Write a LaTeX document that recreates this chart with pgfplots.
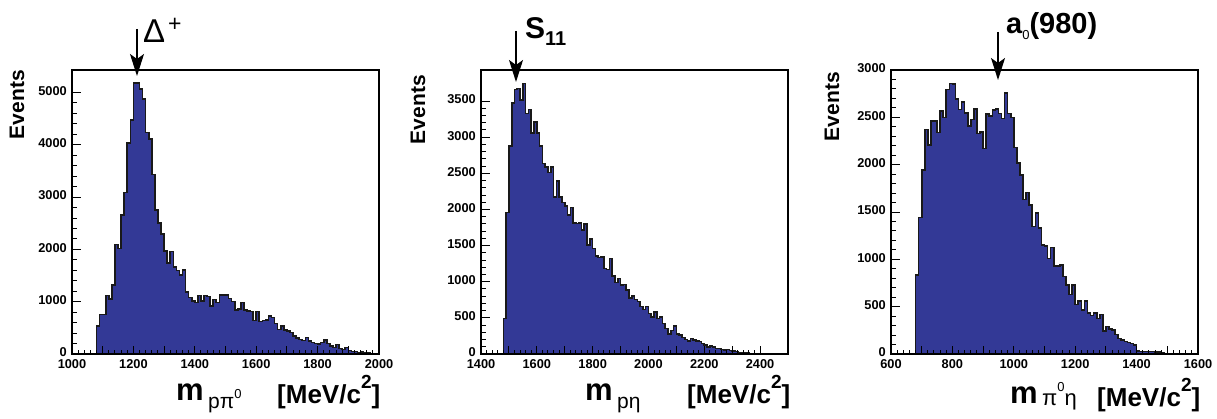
\documentclass[border=0pt]{standalone}
\usepackage{fontspec}
\setmainfont{Liberation Sans}
\usepackage{pgfplots}
\pgfplotsset{compat=1.18}
\usetikzlibrary{arrows.meta}
\definecolor{histblue}{RGB}{51,57,150}
\newcommand\fs[1]{\fontsize{#1}{#1}\selectfont}
\pgfplotsset{rootstyle/.style={
  scale only axis, width=307pt, height=284pt, anchor=south west,
  axis line style={line width=1.2pt},
  axis on top,
  tick align=inside, xtick pos=bottom, ytick pos=left,
  major tick length=8.5pt, minor tick length=4.5pt,
  every tick/.style={black, line width=1pt},
  scaled ticks=false,
  /pgf/number format/assume math mode=true,
  /pgf/number format/1000 sep={},
  ticklabel style={font=\fs{12.8}\bfseries, inner sep=0pt},
  xticklabel style={yshift=-5pt},
  yticklabel style={xshift=-5pt, yshift=1.5pt},
  extra x tick labels={},
  ymin=0,
},
hist/.style={const plot, fill=histblue, draw=black!90, line width=1.6pt}}
\begin{document}
\begin{tikzpicture}[x=1pt,y=1pt]
\path[use as bounding box] (0,0) rectangle (1217,418);
% ---------- panel 1 ----------
\begin{axis}[rootstyle, at={(72pt,64pt)}, xmin=1000, xmax=2000, ymax=5430,
  xtick={1000,1200,...,2000}, minor x tick num=9,
  extra x ticks={1100,1300,1500,1700,1900},
  ytick={0,1000,...,5000}, minor y tick num=4]
\addplot[hist] coordinates {
(1000,0)(1080,535)(1090,758)(1100,758)(1110,1115)(1120,1051)(1130,1318)(1140,2096)(1150,2019)(1160,2656)
(1170,3089)(1180,4032)(1190,4478)(1200,5185)(1210,5185)(1220,5064)(1230,4873)(1240,4236)(1250,4115)(1260,3433)
(1270,2752)(1280,2503)(1290,2293)(1300,1968)(1310,1745)(1320,1956)(1330,1663)(1340,1593)(1350,1516)(1360,1605)
(1370,1191)(1380,1083)(1390,1019)(1400,981)(1410,1115)(1420,1013)(1430,1115)(1440,1096)(1450,917)(1460,1045)
(1470,987)(1480,1128)(1490,1128)(1500,1127)(1510,1064)(1520,1000)(1530,841)(1540,866)(1550,981)(1560,841)
(1570,822)(1580,809)(1590,637)(1600,809)(1610,618)(1620,637)(1630,650)(1640,726)(1650,700)(1660,586)
(1670,471)(1680,535)(1690,459)(1700,440)(1710,408)(1720,344)(1730,306)(1740,280)(1750,255)(1760,318)
(1770,248)(1780,223)(1790,204)(1800,191)(1810,217)(1820,268)(1830,204)(1840,153)(1850,127)(1860,185)
(1870,108)(1880,89)(1890,127)(1900,64)(1910,51)(1920,45)(1930,32)(1940,38)(1950,25)(1960,19)
(1970,13)(1980,6)(1990,6)(2000,6)} \closedcycle;
\end{axis}
% ---------- panel 2 ----------
\begin{axis}[rootstyle, at={(481pt,64pt)}, xmin=1400, xmax=2500, ymax=3930,
  xtick={1400,1600,...,2400}, minor x tick num=9,
  extra x ticks={1500,1700,1900,2100,2300,2500},
  ytick={0,500,...,3500}, minor y tick num=4]
\addplot[hist] coordinates {
(1400,0)(1480,490)(1490,1959)(1500,2881)(1510,3476)(1520,3660)(1530,3674)(1540,3513)(1550,3743)(1560,3328)
(1570,3384)(1580,3061)(1590,3213)(1600,3061)(1610,2877)(1620,2637)(1630,2591)(1640,2512)(1650,2591)(1660,2176)
(1670,2393)(1680,2176)(1690,2098)(1700,2051)(1710,1922)(1720,2028)(1730,1816)(1740,1807)(1750,1816)(1760,1715)
(1770,1798)(1780,1507)(1790,1590)(1800,1461)(1810,1360)(1820,1337)(1830,1346)(1840,1185)(1850,1171)(1860,1323)
(1870,1079)(1880,991)(1890,1046)(1900,954)(1910,963)(1920,885)(1930,779)(1940,802)(1950,756)(1960,724)
(1970,655)(1980,618)(1990,655)(2000,562)(2010,516)(2020,585)(2030,493)(2040,516)(2050,424)(2060,355)
(2070,277)(2080,323)(2090,387)(2100,277)(2110,263)(2120,226)(2130,203)(2140,184)(2150,217)(2160,194)
(2170,184)(2180,171)(2190,148)(2200,124)(2210,101)(2220,111)(2230,101)(2240,74)(2250,78)(2260,65)
(2270,55)(2280,65)(2290,51)(2300,41)(2310,32)(2320,23)(2330,18)(2340,14)(2350,14)(2360,9)
(2370,9)(2380,9)(2390,5)(2400,5)(2410,3)(2420,3)(2430,2)(2440,0)(2500,0)} \closedcycle;
\end{axis}
% ---------- panel 3 ----------
\begin{axis}[rootstyle, at={(891pt,64pt)}, xmin=600, xmax=1600, ymax=3000,
  xtick={600,800,...,1600}, minor x tick num=9,
  extra x ticks={700,900,1100,1300,1500},
  ytick={0,500,...,3000}, minor y tick num=4]
\addplot[hist] coordinates {
(600,0)(680,834)(690,1440)(700,1943)(710,2372)(720,2207)(730,2464)(740,2464)(750,2341)(760,2570)
(770,2499)(780,2795)(790,2858)(800,2851)(810,2693)(820,2584)(830,2665)(840,2548)(850,2408)(860,2478)
(870,2591)(880,2330)(890,2348)(900,2172)(910,2534)(920,2513)(930,2577)(940,2591)(950,2541)(960,2489)
(970,2760)(980,2541)(990,2499)(1000,2182)(1010,2020)(1020,1890)(1030,1633)(1040,1704)(1050,1573)(1060,1345)
(1070,1492)(1080,1334)(1090,1151)(1100,1140)(1110,1010)(1120,1123)(1130,929)(1140,929)(1150,940)(1160,817)
(1170,729)(1180,630)(1190,729)(1200,524)(1210,560)(1220,465)(1230,560)(1240,436)(1250,405)(1260,436)
(1270,377)(1280,419)(1290,243)(1300,289)(1310,264)(1320,253)(1330,208)(1340,165)(1350,148)(1360,130)
(1370,120)(1380,113)(1390,95)(1400,32)(1410,28)(1420,28)(1430,28)(1440,25)(1450,25)(1460,18)
(1470,18)(1480,10)(1490,7)(1500,3)(1510,0)(1600,0)} \closedcycle;
\end{axis}
% ---------- axis titles ----------
\node[rotate=90, anchor=east, inner sep=0, font=\fs{21}\bfseries] at (17,348) {Events};
\node[rotate=90, anchor=east, inner sep=0, font=\fs{21}\bfseries] at (418,343) {Events};
\node[rotate=90, anchor=east, inner sep=0, font=\fs{21}\bfseries] at (832,346) {Events};
\node[anchor=base west, inner sep=0] at (176,18) {\fs{31}\bfseries m};
\node[anchor=base west, inner sep=0] at (208,10) {\fs{21}pπ\raisebox{10pt}{\fs{13}0}};
\node[anchor=base west, inner sep=0] at (277,15) {\fs{26}\bfseries [MeV/c\raisebox{15pt}{\fs{19}2}]};
\node[anchor=base west, inner sep=0] at (585,18) {\fs{31}\bfseries m};
\node[anchor=base west, inner sep=0] at (617,10) {\fs{21}pη};
\node[anchor=base west, inner sep=0] at (687,15) {\fs{26}\bfseries [MeV/c\raisebox{15pt}{\fs{19}2}]};
\node[anchor=base west, inner sep=0] at (1010,15) {\fs{31}\bfseries m};
\node[anchor=base west, inner sep=0] at (1042,13) {\fs{22}π\raisebox{14pt}{\fs{13}0}η};
\node[anchor=base west, inner sep=0] at (1097,12) {\fs{26}\bfseries [MeV/c\raisebox{15pt}{\fs{19}2}]};
% ---------- annotations ----------
\draw[line width=1.3pt, -{Stealth[length=22pt,width=14pt,inset=5pt]}] (137,389) -- (137,342);
\draw[line width=1.3pt, -{Stealth[length=22pt,width=14pt,inset=5pt]}] (516,387) -- (516,336);
\draw[line width=1.3pt, -{Stealth[length=22pt,width=14pt,inset=5pt]}] (998,386) -- (998,338);
\node[anchor=base west, inner sep=0] at (143,375) {\fs{33}Δ\hspace{3pt}\raisebox{11pt}{\fs{23}+}};
\node[anchor=base west, inner sep=0] at (525,379) {\fs{30}\bfseries S\raisebox{-7pt}{\fs{20}11}};
\node[anchor=base west, inner sep=0] at (1006,384) {\fs{29}\bfseries a\raisebox{-6pt}{\fs{13}\mdseries 0}(980)};
\end{tikzpicture}
\end{document}
